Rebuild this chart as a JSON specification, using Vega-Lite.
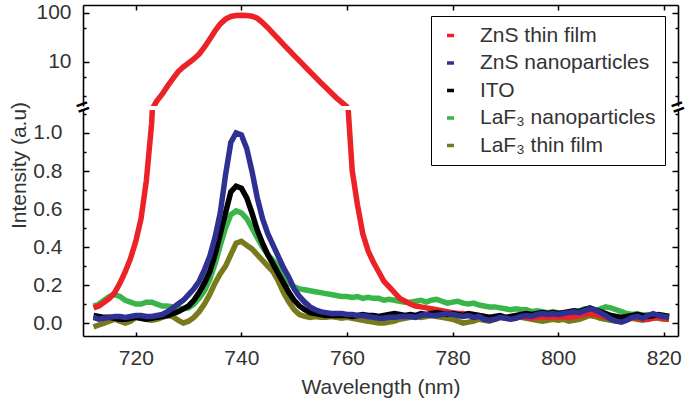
{
  "$schema": "https://vega.github.io/schema/vega-lite/v6.json",
  "background": "white",
  "padding": {"left": 8, "top": 1, "right": 2, "bottom": 2},
  "bounds": "flush",
  "spacing": 4,
  "config": {
    "view": {"stroke": null, "fill": null},
    "font": "Liberation Sans",
    "axis": {
      "grid": false,
      "domain": true,
      "ticks": true,
      "zindex": 1,
      "domainColor": "#000000",
      "domainWidth": 1.6,
      "tickColor": "#000000",
      "tickWidth": 1.5,
      "labelFont": "Liberation Sans",
      "labelFontSize": 21,
      "labelColor": "#333333",
      "titleFont": "Liberation Sans",
      "titleFontSize": 21,
      "titleFontWeight": "normal",
      "titleColor": "#333333"
    }
  },
  "datasets": {
    "spec": [
      {"w":712,"zt":0.08,"zn":0.03,"ito":0.04,"ln":0.09,"lt":-0.02},
      {"w":713,"zt":0.09,"zn":0.02,"ito":0.035,"ln":0.10,"lt":-0.01},
      {"w":714,"zt":0.11,"zn":0.025,"ito":0.03,"ln":0.12,"lt":0},
      {"w":715,"zt":0.13,"zn":0.03,"ito":0.03,"ln":0.14,"lt":0.01},
      {"w":716,"zt":0.16,"zn":0.035,"ito":0.025,"ln":0.15,"lt":0.02},
      {"w":717,"zt":0.21,"zn":0.035,"ito":0.02,"ln":0.14,"lt":0.01},
      {"w":718,"zt":0.27,"zn":0.03,"ito":0.02,"ln":0.12,"lt":0},
      {"w":719,"zt":0.34,"zn":0.035,"ito":0.025,"ln":0.11,"lt":0.01},
      {"w":720,"zt":0.43,"zn":0.04,"ito":0.03,"ln":0.10,"lt":0.03},
      {"w":721,"zt":0.55,"zn":0.04,"ito":0.025,"ln":0.10,"lt":0.025},
      {"w":722,"zt":0.75,"zn":0.035,"ito":0.02,"ln":0.11,"lt":0.02},
      {"w":723,"zt":1.05,"zn":0.035,"ito":0.025,"ln":0.11,"lt":0.015},
      {"w":724,"zt":1.6,"zn":0.04,"ito":0.03,"ln":0.10,"lt":0.02},
      {"w":725,"zt":2.2,"zn":0.045,"ito":0.035,"ln":0.09,"lt":0.03},
      {"w":726,"zt":3.2,"zn":0.06,"ito":0.04,"ln":0.09,"lt":0.04},
      {"w":727,"zt":4.5,"zn":0.08,"ito":0.05,"ln":0.085,"lt":0.035},
      {"w":728,"zt":6.3,"zn":0.10,"ito":0.06,"ln":0.08,"lt":0.015},
      {"w":729,"zt":7.9,"zn":0.12,"ito":0.075,"ln":0.075,"lt":0},
      {"w":730,"zt":9.5,"zn":0.15,"ito":0.09,"ln":0.08,"lt":0.01},
      {"w":731,"zt":11.5,"zn":0.18,"ito":0.12,"ln":0.10,"lt":0.03},
      {"w":732,"zt":14.5,"zn":0.22,"ito":0.16,"ln":0.13,"lt":0.06},
      {"w":733,"zt":20,"zn":0.28,"ito":0.21,"ln":0.17,"lt":0.10},
      {"w":734,"zt":29,"zn":0.35,"ito":0.27,"ln":0.23,"lt":0.15},
      {"w":735,"zt":43,"zn":0.45,"ito":0.36,"ln":0.31,"lt":0.21},
      {"w":736,"zt":60,"zn":0.58,"ito":0.47,"ln":0.41,"lt":0.26},
      {"w":737,"zt":75,"zn":0.78,"ito":0.58,"ln":0.50,"lt":0.30},
      {"w":738,"zt":85,"zn":0.95,"ito":0.69,"ln":0.57,"lt":0.36},
      {"w":739,"zt":89,"zn":1.0,"ito":0.72,"ln":0.59,"lt":0.42},
      {"w":740,"zt":90,"zn":0.99,"ito":0.71,"ln":0.58,"lt":0.43},
      {"w":741,"zt":89,"zn":0.92,"ito":0.66,"ln":0.55,"lt":0.41},
      {"w":742,"zt":86,"zn":0.80,"ito":0.58,"ln":0.50,"lt":0.39},
      {"w":743,"zt":78,"zn":0.66,"ito":0.49,"ln":0.45,"lt":0.36},
      {"w":744,"zt":64,"zn":0.55,"ito":0.42,"ln":0.40,"lt":0.33},
      {"w":745,"zt":50,"zn":0.47,"ito":0.36,"ln":0.36,"lt":0.30},
      {"w":746,"zt":38.5,"zn":0.41,"ito":0.31,"ln":0.33,"lt":0.27},
      {"w":747,"zt":29.5,"zn":0.35,"ito":0.26,"ln":0.30,"lt":0.22},
      {"w":748,"zt":22.5,"zn":0.29,"ito":0.21,"ln":0.25,"lt":0.16},
      {"w":749,"zt":17.5,"zn":0.24,"ito":0.16,"ln":0.21,"lt":0.11},
      {"w":750,"zt":13.5,"zn":0.18,"ito":0.12,"ln":0.19,"lt":0.07},
      {"w":751,"zt":10.5,"zn":0.14,"ito":0.09,"ln":0.18,"lt":0.045},
      {"w":752,"zt":8.1,"zn":0.11,"ito":0.07,"ln":0.175,"lt":0.035},
      {"w":753,"zt":6.3,"zn":0.085,"ito":0.055,"ln":0.17,"lt":0.03},
      {"w":754,"zt":4.9,"zn":0.07,"ito":0.05,"ln":0.165,"lt":0.035},
      {"w":755,"zt":3.8,"zn":0.06,"ito":0.045,"ln":0.16,"lt":0.03},
      {"w":756,"zt":3.0,"zn":0.055,"ito":0.04,"ln":0.155,"lt":0.03},
      {"w":757,"zt":2.35,"zn":0.05,"ito":0.04,"ln":0.15,"lt":0.035},
      {"w":758,"zt":1.85,"zn":0.05,"ito":0.04,"ln":0.145,"lt":0.03},
      {"w":759,"zt":1.5,"zn":0.05,"ito":0.04,"ln":0.14,"lt":0.025},
      {"w":760,"zt":1.22,"zn":0.045,"ito":0.04,"ln":0.14,"lt":0.03},
      {"w":761,"zt":0.80,"zn":0.045,"ito":0.035,"ln":0.135,"lt":0.025},
      {"w":762,"zt":0.62,"zn":0.04,"ito":0.04,"ln":0.14,"lt":0.02},
      {"w":763,"zt":0.47,"zn":0.04,"ito":0.045,"ln":0.13,"lt":0.015},
      {"w":764,"zt":0.38,"zn":0.035,"ito":0.04,"ln":0.135,"lt":0.01},
      {"w":765,"zt":0.32,"zn":0.03,"ito":0.04,"ln":0.13,"lt":0.005},
      {"w":766,"zt":0.27,"zn":0.025,"ito":0.035,"ln":0.13,"lt":0},
      {"w":767,"zt":0.22,"zn":0.025,"ito":0.04,"ln":0.12,"lt":0},
      {"w":768,"zt":0.19,"zn":0.03,"ito":0.045,"ln":0.125,"lt":0.005},
      {"w":769,"zt":0.16,"zn":0.03,"ito":0.05,"ln":0.12,"lt":0.01},
      {"w":770,"zt":0.13,"zn":0.035,"ito":0.045,"ln":0.115,"lt":0.02},
      {"w":771,"zt":0.115,"zn":0.035,"ito":0.04,"ln":0.11,"lt":0.025},
      {"w":772,"zt":0.10,"zn":0.035,"ito":0.045,"ln":0.11,"lt":0.03},
      {"w":773,"zt":0.09,"zn":0.03,"ito":0.04,"ln":0.115,"lt":0.035},
      {"w":774,"zt":0.085,"zn":0.04,"ito":0.05,"ln":0.12,"lt":0.03},
      {"w":775,"zt":0.08,"zn":0.045,"ito":0.045,"ln":0.11,"lt":0.035},
      {"w":776,"zt":0.075,"zn":0.04,"ito":0.05,"ln":0.12,"lt":0.04},
      {"w":777,"zt":0.07,"zn":0.04,"ito":0.055,"ln":0.125,"lt":0.035},
      {"w":778,"zt":0.065,"zn":0.045,"ito":0.05,"ln":0.115,"lt":0.03},
      {"w":779,"zt":0.06,"zn":0.05,"ito":0.045,"ln":0.105,"lt":0.025},
      {"w":780,"zt":0.055,"zn":0.045,"ito":0.05,"ln":0.11,"lt":0.02},
      {"w":781,"zt":0.05,"zn":0.04,"ito":0.045,"ln":0.115,"lt":0.01},
      {"w":782,"zt":0.05,"zn":0.035,"ito":0.04,"ln":0.105,"lt":0},
      {"w":783,"zt":0.045,"zn":0.04,"ito":0.05,"ln":0.10,"lt":0.005},
      {"w":784,"zt":0.04,"zn":0.03,"ito":0.045,"ln":0.105,"lt":0.01},
      {"w":785,"zt":0.04,"zn":0.035,"ito":0.04,"ln":0.095,"lt":0.02},
      {"w":786,"zt":0.035,"zn":0.02,"ito":0.035,"ln":0.09,"lt":0.015},
      {"w":787,"zt":0.03,"zn":0.015,"ito":0.03,"ln":0.085,"lt":0.01},
      {"w":788,"zt":0.03,"zn":0.02,"ito":0.035,"ln":0.085,"lt":0.02},
      {"w":789,"zt":0.035,"zn":0.03,"ito":0.04,"ln":0.08,"lt":0.03},
      {"w":790,"zt":0.03,"zn":0.025,"ito":0.03,"ln":0.075,"lt":0.025},
      {"w":791,"zt":0.025,"zn":0.02,"ito":0.035,"ln":0.07,"lt":0.03},
      {"w":792,"zt":0.03,"zn":0.025,"ito":0.04,"ln":0.075,"lt":0.035},
      {"w":793,"zt":0.035,"zn":0.035,"ito":0.045,"ln":0.07,"lt":0.03},
      {"w":794,"zt":0.03,"zn":0.04,"ito":0.05,"ln":0.07,"lt":0.025},
      {"w":795,"zt":0.025,"zn":0.035,"ito":0.045,"ln":0.06,"lt":0.02},
      {"w":796,"zt":0.03,"zn":0.045,"ito":0.05,"ln":0.065,"lt":0.015},
      {"w":797,"zt":0.035,"zn":0.05,"ito":0.055,"ln":0.06,"lt":0.01},
      {"w":798,"zt":0.03,"zn":0.045,"ito":0.05,"ln":0.055,"lt":0.015},
      {"w":799,"zt":0.035,"zn":0.05,"ito":0.055,"ln":0.06,"lt":0.02},
      {"w":800,"zt":0.03,"zn":0.045,"ito":0.05,"ln":0.055,"lt":0.015},
      {"w":801,"zt":0.035,"zn":0.05,"ito":0.055,"ln":0.05,"lt":0.02},
      {"w":802,"zt":0.03,"zn":0.055,"ito":0.06,"ln":0.055,"lt":0.01},
      {"w":803,"zt":0.035,"zn":0.06,"ito":0.065,"ln":0.06,"lt":0.015},
      {"w":804,"zt":0.04,"zn":0.055,"ito":0.06,"ln":0.065,"lt":0.02},
      {"w":805,"zt":0.045,"zn":0.065,"ito":0.07,"ln":0.075,"lt":0.03},
      {"w":806,"zt":0.05,"zn":0.075,"ito":0.08,"ln":0.07,"lt":0.04},
      {"w":807,"zt":0.045,"zn":0.07,"ito":0.07,"ln":0.065,"lt":0.035},
      {"w":808,"zt":0.04,"zn":0.055,"ito":0.06,"ln":0.075,"lt":0.025},
      {"w":809,"zt":0.03,"zn":0.04,"ito":0.05,"ln":0.085,"lt":0.02},
      {"w":810,"zt":0.025,"zn":0.02,"ito":0.04,"ln":0.08,"lt":0.015},
      {"w":811,"zt":0.02,"zn":0.01,"ito":0.035,"ln":0.07,"lt":0.01},
      {"w":812,"zt":0.02,"zn":0.005,"ito":0.03,"ln":0.06,"lt":0.015},
      {"w":813,"zt":0.025,"zn":0.015,"ito":0.035,"ln":0.05,"lt":0.02},
      {"w":814,"zt":0.03,"zn":0.03,"ito":0.04,"ln":0.045,"lt":0.025},
      {"w":815,"zt":0.025,"zn":0.035,"ito":0.045,"ln":0.05,"lt":0.02},
      {"w":816,"zt":0.02,"zn":0.025,"ito":0.04,"ln":0.04,"lt":0.015},
      {"w":817,"zt":0.02,"zn":0.04,"ito":0.035,"ln":0.045,"lt":0.02},
      {"w":818,"zt":0.025,"zn":0.05,"ito":0.04,"ln":0.04,"lt":0.03},
      {"w":819,"zt":0.03,"zn":0.04,"ito":0.045,"ln":0.035,"lt":0.025},
      {"w":820,"zt":0.025,"zn":0.035,"ito":0.04,"ln":0.04,"lt":0.02},
      {"w":821,"zt":0.02,"zn":0.03,"ito":0.035,"ln":0.035,"lt":0.02}
    ],
    "breaks": [{"bx": 710}, {"bx": 822.7}]
  },
  "resolve": {"scale": {"y": "independent", "color": "independent"}, "legend": {"color": "independent"}},
  "vconcat": [
    {
      "width": 595,
      "height": 101,
      "data": {"name": "spec"},
      "transform": [
        {"fold": ["lt", "ln", "zt", "ito", "zn"], "as": ["s", "v"]},
        {"filter": "datum.s == 'zt' && datum.v > 0.5"}
      ],
      "layer": [
        {
          "mark": {"type": "line", "strokeWidth": 5.5, "clip": true},
          "encoding": {
            "x": {"field": "w", "type": "quantitative",
              "scale": {"domain": [710, 822.7], "nice": false, "zero": false},
              "axis": {"orient": "top", "labels": false, "title": null, "values": [720, 740, 760, 780, 800, 820], "tickSize": -5}},
            "y": {"field": "v", "type": "quantitative",
              "scale": {"type": "log", "domain": [1.26, 145.6], "nice": false},
              "axis": {"orient": "left", "title": null, "values": [2, 5, 10, 50, 100],
                "labelExpr": "datum.value == 10 ? '10' : datum.value == 100 ? '100' : ''",
                "tickSize": {"condition": {"test": "datum.value == 10 || datum.value == 100", "value": -6}, "value": -3},
                "labelPadding": 18}},
            "color": {"field": "s", "type": "nominal",
              "scale": {"domain": ["zt", "zn", "ito", "ln", "lt"], "range": ["#ec2227", "#2e3092", "#000000", "#3ab54a", "#787a1c"]},
              "legend": {
                "orient": "none", "legendX": 348, "legendY": 11,
                "title": null,
                "symbolType": "stroke", "symbolSize": 49, "symbolStrokeWidth": 3.5,
                "labelFontSize": 21, "labelColor": "#333333", "labelFont": "Liberation Sans", "labelLimit": 400,
                "labelOffset": 19, "rowPadding": 5.5, "padding": 9,
                "strokeColor": "#000000", "fillColor": "#ffffff",
                "labelExpr": "datum.value == 'zt' ? 'ZnS thin film' : datum.value == 'zn' ? 'ZnS nanoparticles' : datum.value == 'ito' ? 'ITO' : datum.value == 'ln' ? 'LaF₃ nanoparticles' : 'LaF₃ thin film'"
              }}
          }
        },
        {
          "mark": {"type": "line", "opacity": 0, "clip": true},
          "encoding": {
            "x": {"field": "w", "type": "quantitative", "scale": {"domain": [710, 822.7], "nice": false, "zero": false}},
            "y": {"field": "v", "type": "quantitative",
              "scale": {"type": "log", "domain": [1.26, 145.6], "nice": false},
              "axis": {"orient": "right", "title": null, "labels": false, "values": [2, 5, 10, 50, 100],
                "tickSize": {"condition": {"test": "datum.value == 10 || datum.value == 100", "value": -6}, "value": -3}}}
          }
        }
      ],
      "resolve": {"axis": {"y": "independent"}}
    },
    {
      "width": 595,
      "height": 226,
      "data": {"name": "spec"},
      "transform": [
        {"fold": ["lt", "ln", "zt", "ito", "zn"], "as": ["s", "v"]}
      ],
      "layer": [
        {
          "mark": {"type": "line", "strokeWidth": 5.5, "clip": true},
          "encoding": {
            "x": {"field": "w", "type": "quantitative",
              "scale": {"domain": [710, 822.7], "nice": false, "zero": false},
              "axis": {"orient": "bottom", "title": "Wavelength (nm)", "values": [720, 740, 760, 780, 800, 820], "tickSize": -4, "labelPadding": 15, "titlePadding": 8}},
            "y": {"field": "v", "type": "quantitative",
              "scale": {"domain": [-0.068, 1.121], "nice": false, "zero": false},
              "axis": {"orient": "left", "title": "Intensity (a.u)", "titleY": 55, "titlePadding": 3,
                "values": [0, 0.1, 0.2, 0.3, 0.4, 0.5, 0.6, 0.7, 0.8, 0.9, 1.0, 1.1],
                "format": ".1f",
                "labelExpr": "round(datum.value * 10) % 2 == 0 ? datum.label : ''",
                "tickSize": {"condition": {"test": "round(datum.value * 10) % 2 == 0", "value": -6}, "value": -3},
                "labelPadding": 27}},
            "color": {"field": "s", "type": "nominal",
              "scale": {"domain": ["zt", "zn", "ito", "ln", "lt"], "range": ["#ec2227", "#2e3092", "#000000", "#3ab54a", "#787a1c"]},
              "legend": null}
          }
        },
        {
          "mark": {"type": "line", "opacity": 0, "clip": true},
          "encoding": {
            "x": {"field": "w", "type": "quantitative", "scale": {"domain": [710, 822.7], "nice": false, "zero": false}},
            "y": {"field": "v", "type": "quantitative",
              "scale": {"domain": [-0.068, 1.121], "nice": false, "zero": false},
              "axis": {"orient": "right", "title": null, "labels": false,
                "values": [0, 0.1, 0.2, 0.3, 0.4, 0.5, 0.6, 0.7, 0.8, 0.9, 1.0, 1.1],
                "tickSize": {"condition": {"test": "round(datum.value * 10) % 2 == 0", "value": -6}, "value": -3}}}
          }
        },
        {
          "data": {"name": "breaks"},
          "mark": {"type": "text", "text": "=", "fontSize": 22, "fontWeight": "bold", "angle": -20, "color": "#000000", "align": "center", "baseline": "middle", "clip": false},
          "encoding": {
            "x": {"field": "bx", "type": "quantitative", "scale": {"domain": [710, 822.7], "nice": false, "zero": false}},
            "y": {"datum": 1.135, "type": "quantitative", "scale": {"domain": [-0.068, 1.121], "nice": false, "zero": false}, "axis": null}
          }
        }
      ],
      "resolve": {"axis": {"y": "independent"}}
    }
  ]
}
